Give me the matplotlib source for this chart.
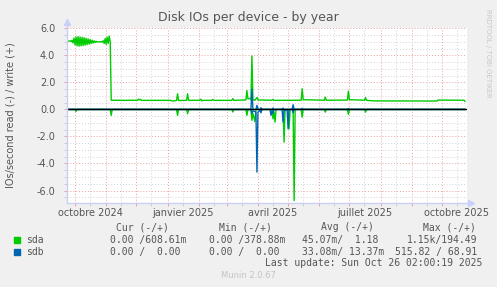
import matplotlib
matplotlib.use("Agg")
import matplotlib.pyplot as plt
import matplotlib.ticker as mticker
import pandas as pd
from matplotlib.patches import Rectangle

plt.rcParams['font.family'] = ['DejaVu Sans']
plt.rcParams['axes.unicode_minus'] = False

W, H = 497, 287

# sda writes, daily values at the start of the period (noisy section)
sda_write_early_start = "2024-09-23"
sda_write_early = [5.05, 5.06, 5.05, 5.07, 5.02, 5.12, 4.92, 5.28,
                   4.78, 5.36, 4.70, 5.38, 4.68, 5.36, 4.70, 5.33, 4.72, 5.30,
                   4.75, 5.26, 4.79, 5.22, 4.83, 5.17, 4.87, 5.12, 4.91, 5.08,
                   4.95, 5.04, 4.98, 5.01, 5.00, 4.99, 5.02, 4.97, 5.08, 4.88, 5.25,
                   4.82, 5.35, 4.88, 5.43, 5.00]

# sda writes afterwards (key dates)
sda_write_dates = ["2024-11-06", "2024-11-20", "2024-11-28", "2024-12-02", "2024-12-03",
                   "2024-12-04", "2024-12-05", "2024-12-06", "2025-01-04", "2025-01-06",
                   "2025-01-10", "2025-01-11", "2025-01-12", "2025-01-20", "2025-01-21",
                   "2025-01-22", "2025-02-02", "2025-02-03", "2025-02-04", "2025-02-05",
                   "2025-02-14", "2025-02-15", "2025-02-16", "2025-03-06", "2025-03-07",
                   "2025-03-08", "2025-03-20", "2025-03-21", "2025-03-22", "2025-03-24",
                   "2025-03-25", "2025-03-26", "2025-03-27", "2025-03-29", "2025-03-31",
                   "2025-04-01", "2025-04-15", "2025-04-16", "2025-04-17", "2025-05-14",
                   "2025-05-15", "2025-05-16", "2025-06-06", "2025-06-07", "2025-06-08",
                   "2025-06-29", "2025-06-30", "2025-07-01", "2025-07-16", "2025-07-17",
                   "2025-07-18", "2025-07-26", "2025-09-26", "2025-09-27", "2025-10-23",
                   "2025-10-24"]
sda_write = [0.68, 0.67, 0.68, 0.67, 0.76,
             0.70, 0.75, 0.67, 0.67, 0.62,
             0.66, 1.16, 0.66, 0.67, 1.16,
             0.67, 0.68, 0.76, 0.63, 0.67,
             0.67, 0.74, 0.67, 0.67, 0.80,
             0.67, 0.70, 1.40, 0.78, 0.82,
             0.72, 3.95, 0.72, 0.68, 0.88,
             0.70, 0.68, 0.74, 0.67, 0.68,
             1.53, 0.72, 0.68, 0.90, 0.68,
             0.69, 1.35, 0.72, 0.68, 0.87,
             0.67, 0.63, 0.62, 0.69, 0.68,
             0.60]

# sda reads (drawn below zero)
sda_read_dates = ["2024-09-23", "2024-10-01", "2024-10-02", "2024-10-03", "2024-11-05",
                  "2024-11-06", "2024-11-07", "2025-01-10", "2025-01-11", "2025-01-12",
                  "2025-01-20", "2025-01-21", "2025-01-22", "2025-03-06", "2025-03-07",
                  "2025-03-08", "2025-03-20", "2025-03-21", "2025-03-22", "2025-03-25",
                  "2025-03-26", "2025-03-27", "2025-03-29", "2025-03-30", "2025-04-15",
                  "2025-04-16", "2025-04-17", "2025-04-18", "2025-04-19", "2025-04-26",
                  "2025-04-27", "2025-04-28", "2025-05-01", "2025-05-02", "2025-05-03",
                  "2025-05-06", "2025-05-07", "2025-05-08", "2025-05-14", "2025-05-15",
                  "2025-05-16", "2025-06-06", "2025-06-07", "2025-06-08", "2025-06-29",
                  "2025-06-30", "2025-07-01", "2025-07-16", "2025-07-17", "2025-07-18",
                  "2025-10-24"]
sda_read = [0, 0, 0.15, 0, 0,
            0.44, 0, 0, 0.44, 0,
            0, 0.32, 0, 0, 0.19,
            0, 0, 0.44, 0, 0,
            0.81, 0.30, 0.90, 0, 0,
            0.70, 0.20, 0.94, 0, 0,
            2.42, 0, 0, 1.43, 0,
            0, 6.74, 0, 0, 0.57,
            0, 0, 0.20, 0, 0,
            0.37, 0, 0, 0.20, 0,
            0]

# sdb writes
sdb_write_dates = ["2024-09-23", "2025-03-25", "2025-03-26", "2025-03-27", "2025-03-30",
                   "2025-03-31", "2025-04-01", "2025-04-03", "2025-04-04", "2025-04-05",
                   "2025-04-15", "2025-04-16", "2025-04-17", "2025-04-25", "2025-04-26",
                   "2025-04-27", "2025-05-05", "2025-05-06", "2025-05-07", "2025-05-14",
                   "2025-05-15", "2025-05-16", "2025-06-29", "2025-06-30", "2025-07-01",
                   "2025-10-24"]
sdb_write = [0, 0, 1.50, 0, 0,
             0.30, 0, 0, 0.12, 0,
             0, 0.10, 0, 0, 0.10,
             0, 0, 0.35, 0, 0,
             0.08, 0, 0, 0.06, 0,
             0]

# sdb reads
sdb_read_dates = ["2024-09-23", "2025-03-25", "2025-03-26", "2025-03-27", "2025-03-30",
                  "2025-03-31", "2025-04-01", "2025-04-03", "2025-04-04", "2025-04-05",
                  "2025-04-13", "2025-04-14", "2025-04-15", "2025-04-16", "2025-04-17",
                  "2025-04-25", "2025-04-26", "2025-04-27", "2025-04-30", "2025-05-01",
                  "2025-05-02", "2025-05-05", "2025-05-06", "2025-05-07", "2025-10-24"]
sdb_read = [0, 0, 0.30, 0.10, 0.20,
            4.64, 0.20, 0.05, 0.25, 0,
            0, 0.44, 0.10, 0.30, 0,
            0, 0.94, 0.10, 0, 1.43,
            0, 0, 0.25, 0, 0]

tick_label_dates = ["2024-10-16", "2025-01-16", "2025-04-16", "2025-07-16", "2025-10-16"]
tick_labels = ["octobre 2024", "janvier 2025", "avril 2025", "juillet 2025", "octobre 2025"]

legend_names = ["sda", "sdb"]
legend_colors = ["#00cc00", "#0066b3"]
legend_cur = ["0.00 /608.61m", "0.00 /  0.00"]
legend_min = ["0.00 /378.88m", "0.00 /  0.00"]
legend_avg = ["45.07m/  1.18", "33.08m/ 13.37m"]
legend_max = ["1.15k/194.49", "515.82 / 68.91"]

GREEN, BLUE = legend_colors
TXT = "#555555"

fig = plt.figure(figsize=(W / 100, H / 100), dpi=100, facecolor="#f0f0f0")
ax = fig.add_axes([67 / W, 1 - 202.7 / H, 400 / W, (202.7 - 28.3) / H])
ax.set_facecolor("white")

t0 = pd.Timestamp("2024-09-23")
t1 = pd.Timestamp("2025-10-26")
ax.set_xlim(t0, t1)
ax.set_ylim(-6.9, 6.0)

early_dates = pd.date_range(sda_write_early_start, periods=len(sda_write_early), freq="D")
sda_w_x = list(early_dates) + list(pd.to_datetime(sda_write_dates))
sda_w_y = sda_write_early + sda_write

ax.plot(sda_w_x, sda_w_y, color=GREEN, lw=1.0, zorder=3)
ax.plot(pd.to_datetime(sda_read_dates), [-v for v in sda_read], color=GREEN, lw=1.0, zorder=3)
ax.plot(pd.to_datetime(sdb_write_dates), sdb_write, color=BLUE, lw=1.0, zorder=4)
ax.plot(pd.to_datetime(sdb_read_dates), [-v for v in sdb_read], color=BLUE, lw=1.0, zorder=4)
ax.axhline(0, color="black", lw=1.0, zorder=5)

# grid
months = pd.date_range("2024-10-01", "2025-10-01", freq="MS")
mids = months + pd.Timedelta(days=15)
ax.set_xticks(months)
ax.set_xticks(mids, minor=True)
ax.set_xticklabels([])
ax.yaxis.set_major_locator(mticker.MultipleLocator(2.0))
ax.yaxis.set_minor_locator(mticker.MultipleLocator(0.5))
ax.yaxis.set_major_formatter(mticker.FormatStrFormatter("%.1f"))
ax.grid(which="major", color="#e8a0a0", linestyle=(0, (1, 2)), lw=0.7)
ax.grid(which="minor", color="#d4d4d4", linestyle=(0, (1, 2)), lw=0.7)
ax.set_axisbelow(True)
ax.tick_params(which="major", length=2.5, width=0.7, color="#e8a0a0", labelsize=7,
               labelcolor=TXT, pad=6)
ax.tick_params(which="minor", length=2, width=0.7, color="#cccccc")
for s in ax.spines.values():
    s.set_visible(False)

axis_col = "#c8d0f8"
ax.plot([0, 0], [0, 1.035], transform=ax.transAxes, color=axis_col, lw=1.0, clip_on=False, zorder=6)
ax.plot([0, 1.01], [0, 0], transform=ax.transAxes, color=axis_col, lw=1.0, clip_on=False, zorder=6)
ax.plot([0], [1.035], transform=ax.transAxes, marker="^", ms=4, color=axis_col, clip_on=False, zorder=6)
ax.plot([1.01], [0], transform=ax.transAxes, marker=">", ms=4, color=axis_col, clip_on=False, zorder=6)

for d, lab in zip(tick_label_dates, tick_labels):
    ax.text(pd.Timestamp(d), -0.058, lab, transform=ax.get_xaxis_transform(),
            ha="center", va="center", fontsize=7, color=TXT)

fig.text(248 / W, 1 - 18 / H, "Disk IOs per device - by year", ha="center", va="center",
         fontsize=9, color=TXT)
fig.text(11 / W, 1 - 115 / H, "IOs/second read (-) / write (+)", rotation=90,
         ha="center", va="center", fontsize=7, color=TXT)
fig.text(488 / W, 1 - 53 / H, "RRDTOOL / TOBI OETIKER", rotation=270,
         ha="center", va="center", fontsize=5, color="#c8c8c8")

mono = dict(family="DejaVu Sans Mono", fontsize=7, color=TXT, va="center")
for hx, h in zip([116, 219, 321, 423], ["Cur (-/+)", "Min (-/+)", "Avg (-/+)", "Max (-/+)"]):
    fig.text(hx / W, 1 - 227 / H, h, ha="left", **mono)

rows_y = [240, 252]
cols = [(110, legend_cur), (209, legend_min), (302, legend_avg)]
max_x = [407, 395]
for i, name in enumerate(legend_names):
    y = rows_y[i]
    fig.add_artist(Rectangle((14 / W, 1 - (y + 3) / H), 6 / W, 6 / H,
                             transform=fig.transFigure, color=legend_colors[i]))
    fig.text(26 / W, 1 - y / H, name, ha="left", **mono)
    for cx, vals in cols:
        fig.text(cx / W, 1 - y / H, vals[i], ha="left", **mono)
    fig.text(max_x[i] / W, 1 - y / H, legend_max[i], ha="left", **mono)

fig.text(482 / W, 1 - 263 / H, "Last update: Sun Oct 26 02:00:19 2025", ha="right", **mono)
fig.text(248 / W, 1 - 276 / H, "Munin 2.0.67", ha="center", va="center",
         fontsize=6, color="#c4c4c4")

fig.savefig("out.png", dpi=100, facecolor=fig.get_facecolor())
